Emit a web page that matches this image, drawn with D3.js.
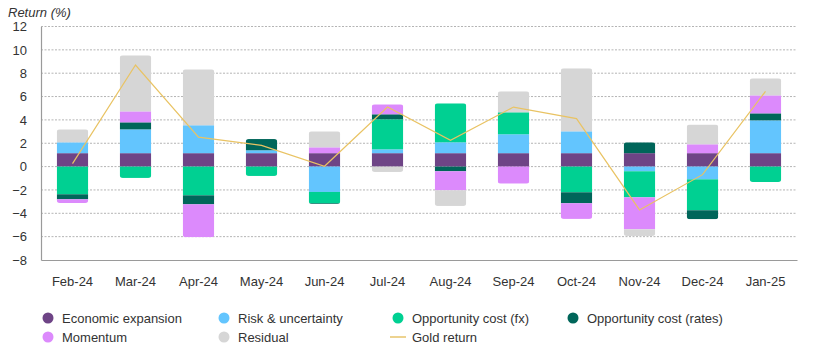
<!DOCTYPE html>
<html>
<head>
<meta charset="utf-8">
<script src="https://cdn.jsdelivr.net/npm/d3@7"></script>
<style>
  html, body { margin: 0; padding: 0; background: #fff; }
  svg { display: block; font-family: "Liberation Sans", Arial, sans-serif; }
</style>
</head>
<body>
<svg id="chart" width="828" height="364"></svg>
<script>
const months = ["Feb-24","Mar-24","Apr-24","May-24","Jun-24","Jul-24","Aug-24","Sep-24","Oct-24","Nov-24","Dec-24","Jan-25"];
const seriesNames = ["Economic expansion","Risk & uncertainty","Opportunity cost (fx)","Opportunity cost (rates)","Momentum","Residual"];
const economicExpansion = [1.15,1.15,1.15,1.15,1.15,1.15,1.15,1.15,1.15,1.15,1.15,1.15];
const riskUncertainty   = [0.93,2.04,2.39,0.25,-2.17,0.33,0.93,1.62,1.87,-0.40,-1.09,2.81];
const oppCostFx         = [-2.37,-0.97,-2.46,-0.80,-0.97,2.57,3.34,1.88,-2.20,-2.23,-2.65,-1.32];
const oppCostRates      = [-0.43,0.60,-0.77,0.96,-0.06,0.43,-0.40,0.00,-0.94,0.93,-0.77,0.60];
const momentum          = [-0.32,0.94,-2.82,0.00,0.50,0.85,-1.63,-1.46,-1.34,-2.74,0.76,1.54];
const residual          = [1.11,4.80,4.79,0.00,1.37,-0.46,-1.34,1.80,5.40,-0.57,1.69,1.46];
const goldReturn        = [0.26,8.70,2.53,1.82,0.03,5.10,2.25,5.10,4.11,-3.71,-0.69,6.45];
const yTicks = [-8,-6,-4,-2,0,2,4,6,8,10,12];

const colors = ["#6E4486","#63C5FE","#00D092","#00665A","#DC8AFC","#D6D6D6"];
const goldColor = "#E9C363";

const seriesValues = [economicExpansion, riskUncertainty, oppCostFx, oppCostRates, momentum, residual];
const table = months.map((m, i) => {
  const row = { month: m };
  seriesNames.forEach((s, j) => row[s] = seriesValues[j][i]);
  return row;
});

const svg = d3.select("#chart");
const x = d3.scaleBand().domain(months).range([41, 797]).paddingInner(0.5).paddingOuter(0.25);
const y = d3.scaleLinear().domain([-8, 12]).range([260, 26.5]);

// gridlines
svg.append("g").selectAll("line").data(yTicks.filter(t => t > -8)).join("line")
  .attr("x1", 41).attr("x2", 797)
  .attr("y1", d => y(d)).attr("y2", d => y(d))
  .attr("stroke", "#b4b4b4").attr("stroke-width", 1).attr("stroke-dasharray", "2,1.5");

// y axis
const yAxis = d3.axisLeft(y).tickValues(yTicks).tickSize(0).tickPadding(14);
const gy = svg.append("g").attr("transform", "translate(41,0)").call(yAxis);
gy.select(".domain").attr("stroke", "#9a9a9a").attr("stroke-width", 1.2);
gy.selectAll("text").attr("font-size", 13).attr("fill", "#333").attr("font-family", "Liberation Sans, Arial, sans-serif");

// x axis
const xAxis = d3.axisBottom(x).tickSize(0).tickPadding(17);
const gx = svg.append("g").attr("transform", "translate(0,260)").call(xAxis);
gx.select(".domain").attr("stroke", "#9a9a9a").attr("stroke-width", 1.2);
gx.selectAll("text").attr("font-size", 13).attr("fill", "#333").attr("font-family", "Liberation Sans, Arial, sans-serif");

// y title
svg.append("text").attr("x", 8).attr("y", 17).attr("font-size", 13).attr("font-style", "italic")
  .attr("fill", "#333").text("Return (%)");

// stacks
const stack = d3.stack().keys(seriesNames).offset(d3.stackOffsetDiverging);
const layers = stack(table);

// clip paths for rounded outer ends
const defs = svg.append("defs");
months.forEach((m, i) => {
  let lo = 0, hi = 0;
  layers.forEach(L => { lo = Math.min(lo, L[i][0], L[i][1]); hi = Math.max(hi, L[i][0], L[i][1]); });
  defs.append("clipPath").attr("id", "clip" + i)
    .append("rect").attr("x", x(m)).attr("width", x.bandwidth())
    .attr("y", y(hi)).attr("height", y(lo) - y(hi)).attr("rx", 3).attr("ry", 3);
});

const barsG = svg.append("g");
months.forEach((m, i) => {
  const g = barsG.append("g").attr("clip-path", `url(#clip${i})`);
  layers.forEach((L, j) => {
    const d = L[i];
    if (d[0] === d[1]) return;
    g.append("rect")
      .attr("x", x(m)).attr("width", x.bandwidth())
      .attr("y", y(Math.max(d[0], d[1])))
      .attr("height", Math.abs(y(d[0]) - y(d[1])))
      .attr("fill", colors[j]);
  });
});

// gold line
const line = d3.line().x((d, i) => x(months[i]) + x.bandwidth() / 2).y(d => y(d));
svg.append("path").datum(goldReturn).attr("d", line)
  .attr("fill", "none").attr("stroke", goldColor).attr("stroke-width", 1.2);

// legend
const legendItems = [
  { name: "Economic expansion", color: colors[0], x: 48, y: 318 },
  { name: "Risk & uncertainty", color: colors[1], x: 224, y: 318 },
  { name: "Opportunity cost (fx)", color: colors[2], x: 398, y: 318 },
  { name: "Opportunity cost (rates)", color: colors[3], x: 573, y: 318 },
  { name: "Momentum", color: colors[4], x: 48, y: 337 },
  { name: "Residual", color: colors[5], x: 224, y: 337 },
  { name: "Gold return", color: goldColor, x: 398, y: 337, line: true }
];
const lg = svg.append("g");
legendItems.forEach(it => {
  if (it.line) {
    lg.append("line").attr("x1", it.x - 8).attr("x2", it.x + 8).attr("y1", it.y).attr("y2", it.y)
      .attr("stroke", "#EDD390").attr("stroke-width", 2);
  } else {
    lg.append("circle").attr("cx", it.x).attr("cy", it.y).attr("r", 5.5).attr("fill", it.color);
  }
  lg.append("text").attr("x", it.x + 14).attr("y", it.y).attr("dy", "0.35em")
    .attr("font-size", 13).attr("fill", "#333").text(it.name);
});
</script>
</body>
</html>
